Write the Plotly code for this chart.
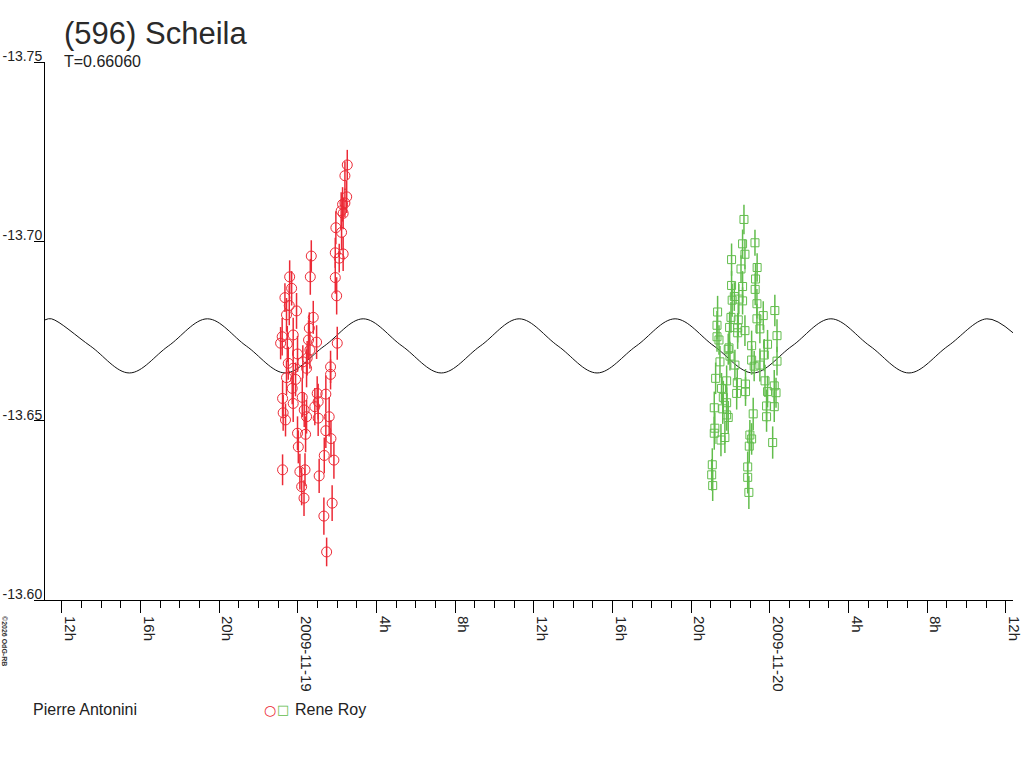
import pandas as pd
import plotly.graph_objects as go

title_text = "(596) Scheila"
period_text = "T=0.66060"
observer_1 = "Pierre Antonini"
observer_2 = "Rene Roy"
copyright_text = "©2026 OdG-RB"
epoch = "2009-11-19 00:00"

# red circles: hours after epoch, magnitude, error
red_hours = [2.51, 2.39, 2.48, 2.39, 2.27, 2.20, 2.30, 1.93, 2.22, 1.90, 2.30, 2.10,
             0.68, 0.63, 1.90, 1.97, -0.42, -0.32, -0.66, -0.44, -0.58, -0.07, 0.78, 0.58,
             -0.80, -0.24, -0.88, -0.54, 0.54, 0.95, 2.00, -0.02, 0.61, 0.47, -0.49, -0.24,
             0.44, 1.66, 1.66, -0.58, -0.12, -0.29, -0.78, -0.24, 0.22, 0.98, 1.42, -0.75,
             -0.63, 0.32, 0.86, 1.03, 0.44, 1.03, 1.59, -0.02, 0.39, 1.42, 1.68, 0.02,
             1.34, 1.83, -0.78, 0.10, 0.36, 1.08, 0.19, 0.31, 1.74, 1.32, 1.46, 0.25]
red_mag = [-13.7213, -13.7183, -13.7124, -13.7107, -13.7103, -13.7085, -13.7078, -13.7038,
           -13.7025, -13.6968, -13.6965, -13.6953, -13.6959, -13.6901, -13.6899, -13.6848,
           -13.6901, -13.6869, -13.6843, -13.6821, -13.6795, -13.6806, -13.6788, -13.6758,
           -13.6734, -13.6739, -13.6716, -13.6714, -13.6725, -13.6719, -13.6716, -13.6686,
           -13.6697, -13.6674, -13.6660, -13.6646, -13.6646, -13.6650, -13.6629, -13.6620,
           -13.6615, -13.6590, -13.6562, -13.6548, -13.6565, -13.6576, -13.6574, -13.6522,
           -13.6502, -13.6530, -13.6539, -13.6553, -13.6511, -13.6507, -13.6511, -13.6465,
           -13.6462, -13.6472, -13.6450, -13.6427, -13.6403, -13.6390, -13.6363, -13.6358,
           -13.6363, -13.6346, -13.6316, -13.6284, -13.6270, -13.6234, -13.6134, -13.6664]
red_err = [0.0042, 0.0040, 0.0045, 0.0040, 0.0048, 0.0052, 0.0044, 0.0046, 0.0050, 0.0042,
           0.0048, 0.0040, 0.0044, 0.0050, 0.0045, 0.0052, 0.0046, 0.0048, 0.0040, 0.0055,
           0.0047, 0.0050, 0.0046, 0.0044, 0.0052, 0.0048, 0.0045, 0.0050, 0.0055, 0.0047,
           0.0046, 0.0050, 0.0052, 0.0048, 0.0046, 0.0050, 0.0053, 0.0045, 0.0042, 0.0048,
           0.0047, 0.0044, 0.0050, 0.0052, 0.0055, 0.0048, 0.0052, 0.0050, 0.0046, 0.0048,
           0.0052, 0.0050, 0.0047, 0.0050, 0.0055, 0.0047, 0.0050, 0.0048, 0.0052, 0.0046,
           0.0050, 0.0052, 0.0043, 0.0050, 0.0046, 0.0048, 0.0052, 0.0050, 0.0050, 0.0052,
           0.0040, 0.0046]

# green squares: hours after epoch, magnitude, error
green_hours = [22.68, 22.61, 23.24, 22.73, 22.05, 22.53, 23.35, 23.27, 23.25, 22.05, 22.61,
               22.19, 22.08, 22.42, 22.61, 23.34, 24.25, 21.34, 23.66, 22.02, 23.34, 22.39,
               21.31, 21.95, 22.36, 22.73, 23.49, 22.36, 21.31, 24.36, 21.41, 21.92, 23.07,
               23.88, 21.88, 23.71, 23.07, 21.46, 21.97, 22.22, 23.20, 23.49, 24.36, 21.24,
               21.80, 22.34, 23.75, 22.76, 24.22, 21.54, 22.31, 22.76, 23.88, 24.31, 21.63,
               21.80, 21.17, 21.60, 23.83, 24.22, 21.80, 21.88, 23.15, 23.83, 21.20, 21.17,
               21.71, 21.51, 22.98, 23.07, 22.95, 24.14, 21.07, 22.87, 21.04, 22.87, 21.09,
               22.93]
green_mag = [-13.7061, -13.6993, -13.6996, -13.6964, -13.6949, -13.6923, -13.6927, -13.6895,
             -13.6866, -13.6877, -13.6874, -13.6846, -13.6836, -13.6839, -13.6834, -13.6826,
             -13.6807, -13.6803, -13.6793, -13.6788, -13.6784, -13.6781, -13.6766, -13.6760,
             -13.6759, -13.6751, -13.6756, -13.6745, -13.6734, -13.6737, -13.6725, -13.6703,
             -13.6709, -13.6713, -13.6699, -13.6683, -13.6669, -13.6664, -13.6680, -13.6655,
             -13.6652, -13.6655, -13.6666, -13.6618, -13.6611, -13.6606, -13.6611, -13.6602,
             -13.6597, -13.6590, -13.6576, -13.6581, -13.6581, -13.6578, -13.6565, -13.6550,
             -13.6536, -13.6533, -13.6541, -13.6539, -13.6516, -13.6509, -13.6519, -13.6511,
             -13.6479, -13.6465, -13.6453, -13.6446, -13.6460, -13.6449, -13.6429, -13.6439,
             -13.6377, -13.6371, -13.6349, -13.6342, -13.6319, -13.6300]
green_err = [0.0041, 0.0040, 0.0036, 0.0042, 0.0045, 0.0038, 0.0040, 0.0042, 0.0044, 0.0040,
             0.0043, 0.0040, 0.0046, 0.0042, 0.0038, 0.0041, 0.0044, 0.0045, 0.0040, 0.0043,
             0.0042, 0.0046, 0.0040, 0.0044, 0.0041, 0.0043, 0.0040, 0.0045, 0.0042, 0.0046,
             0.0041, 0.0044, 0.0042, 0.0040, 0.0043, 0.0045, 0.0041, 0.0044, 0.0040, 0.0043,
             0.0042, 0.0046, 0.0040, 0.0044, 0.0043, 0.0041, 0.0045, 0.0042, 0.0044, 0.0043,
             0.0045, 0.0040, 0.0044, 0.0042, 0.0046, 0.0043, 0.0045, 0.0042, 0.0046, 0.0043,
             0.0044, 0.0046, 0.0045, 0.0042, 0.0044, 0.0046, 0.0043, 0.0045, 0.0042, 0.0044,
             0.0046, 0.0045, 0.0046, 0.0043, 0.0044, 0.0045, 0.0043, 0.0046]

# fitted lightcurve, read at its extrema and mid-level crossings
fit_hours = [-12.86, -12.53, -10.55, -8.57, -6.59, -4.60, -2.62, -0.64, 1.34, 3.32, 5.30,
             7.29, 9.27, 11.25, 13.23, 15.21, 17.20, 19.18, 21.16, 23.14, 25.12, 27.10,
             29.09, 31.07, 33.05, 35.03, 36.36]
fit_mag = [-13.6781, -13.6784, -13.6708, -13.6633, -13.6708, -13.6784, -13.6708, -13.6633,
           -13.6708, -13.6784, -13.6708, -13.6633, -13.6708, -13.6784, -13.6708, -13.6633,
           -13.6708, -13.6784, -13.6708, -13.6633, -13.6708, -13.6784, -13.6708, -13.6633,
           -13.6708, -13.6784, -13.6745]

x_tick_hours = [-12, -8, -4, 0, 4, 8, 12, 16, 20, 24, 28, 32, 36]
x_tick_labels = ["12h", "16h", "20h", "2009-11-19", "4h", "8h", "12h", "16h", "20h",
                 "2009-11-20", "4h", "8h", "12h"]
x_range_hours = [-12.86, 36.36]
y_tick_vals = [-13.75, -13.70, -13.65, -13.60]
y_tick_labels = ["-13.75", "-13.70", "-13.65", "-13.60"]
y_range = [-13.60, -13.75]

base = pd.Timestamp(epoch)


def to_time(hours):
    return [base + pd.Timedelta(hours=h) for h in hours]


RED = "#ec2a36"
GREEN = "#62bd4c"
FONT = "Liberation Sans, Arial, sans-serif"
TXT = "#222222"

FIG_W, FIG_H = 1024, 768
PLOT_L, PLOT_R, PLOT_T, PLOT_B = 45, 1013, 62, 600   # plot area in window pixels
PW, PH = PLOT_R - PLOT_L, PLOT_B - PLOT_T


def px(xw):
    return (xw - PLOT_L) / PW


def py(yw):
    return (PLOT_B - yw) / PH


fig = go.Figure()
fig.add_trace(go.Scatter(
    x=to_time(fit_hours), y=fit_mag, mode="lines",
    line=dict(color="#111111", width=1, shape="spline", smoothing=1.0),
    hoverinfo="skip"))
fig.add_trace(go.Scatter(
    x=to_time(red_hours), y=red_mag, mode="markers",
    marker=dict(symbol="circle-open", size=10, color=RED, line=dict(width=1, color=RED)),
    error_y=dict(type="data", array=red_err, visible=True, color=RED, thickness=1.5, width=0)))
fig.add_trace(go.Scatter(
    x=to_time(green_hours), y=green_mag, mode="markers",
    marker=dict(symbol="square-open", size=8, color=GREEN, line=dict(width=1, color=GREEN)),
    error_y=dict(type="data", array=green_err, visible=True, color=GREEN, thickness=1.5, width=0)))

fig.update_layout(
    template="none",
    width=FIG_W, height=FIG_H,
    margin=dict(l=PLOT_L, r=FIG_W - PLOT_R, t=PLOT_T, b=FIG_H - PLOT_B,
                pad=0, autoexpand=False),
    paper_bgcolor="white", plot_bgcolor="white",
    showlegend=False,
    font=dict(family=FONT, color=TXT),
    title=dict(text=title_text, xref="container", yref="container",
               x=64 / FIG_W, xanchor="left", y=1 - 33 / FIG_H, yanchor="middle",
               pad=dict(l=0, r=0, t=0, b=0),
               font=dict(size=31, family=FONT, color="#2a2a2a")),
)

fig.update_xaxes(
    type="date", automargin=False,
    range=to_time(x_range_hours),
    showgrid=False, zeroline=False,
    showline=True, linecolor="black", linewidth=1,
    ticks="outside", ticklen=12, tickcolor="black", tickwidth=1,
    tickmode="array", tickvals=to_time(x_tick_hours), ticktext=x_tick_labels,
    tickangle=90, tickfont=dict(size=15, family=FONT, color=TXT),
    ticklabelshift=8, ticklabeloverflow="allow",
    minor=dict(ticks="outside", ticklen=7, tickcolor="black", tickwidth=1,
               tickmode="linear", tick0=to_time([-12])[0], dtick=3600000, showgrid=False),
)
fig.update_yaxes(
    automargin=False,
    range=y_range,
    showgrid=False, zeroline=False,
    showline=True, linecolor="black", linewidth=1,
    ticks="outside", ticklen=10, tickcolor="black", tickwidth=1,
    tickmode="array", tickvals=y_tick_vals, ticktext=y_tick_labels,
    tickfont=dict(size=14, family=FONT, color=TXT),
    ticklabelstandoff=-11, ticklabelshift=6, ticklabeloverflow="allow",
)

annotations = [
    dict(text=period_text, xref="paper", yref="paper", x=px(62), y=py(61),
         xanchor="left", yanchor="middle", showarrow=False,
         font=dict(size=16, family=FONT, color=TXT)),
    dict(text=observer_1, xref="paper", yref="paper", x=px(31), y=py(710),
         xanchor="left", yanchor="middle", showarrow=False,
         font=dict(size=16, family=FONT, color=TXT)),
    dict(text="○", xref="paper", yref="paper", x=px(270), y=py(710),
         xanchor="center", yanchor="middle", showarrow=False,
         font=dict(size=14, family="DejaVu Sans", color=RED)),
    dict(text="□", xref="paper", yref="paper", x=px(283), y=py(710),
         xanchor="center", yanchor="middle", showarrow=False,
         font=dict(size=13, family="DejaVu Sans", color=GREEN)),
    dict(text=observer_2, xref="paper", yref="paper", x=px(293), y=py(710),
         xanchor="left", yanchor="middle", showarrow=False,
         font=dict(size=16, family=FONT, color=TXT)),
    dict(text="<b>" + copyright_text + "</b>", xref="paper", yref="paper",
         x=px(5), y=py(641), textangle=90,
         xanchor="center", yanchor="middle", showarrow=False,
         font=dict(size=7, family=FONT, color="#333333")),
]
fig.update_layout(annotations=annotations)

# remove the default page margin so the 1024x768 figure fills the window exactly
fig.write_html("out.html",
               config={"displayModeBar": False},
               post_script="document.body.style.margin='0';"
                           "document.body.style.overflow='hidden';")
